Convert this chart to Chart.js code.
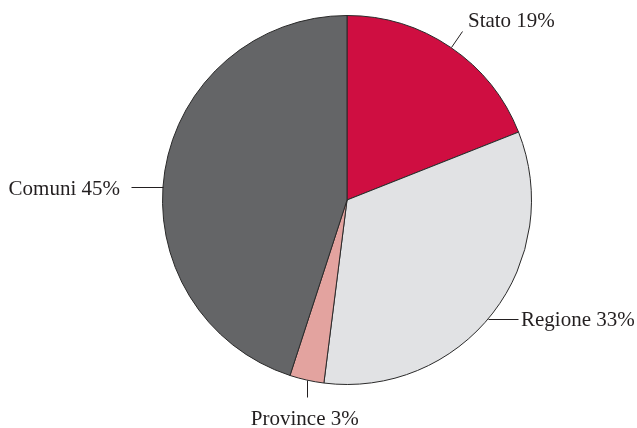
<!DOCTYPE html>
<html>
<head>
<meta charset="utf-8">
<script src="https://cdn.jsdelivr.net/npm/chart.js@4.4.1/dist/chart.umd.min.js"></script>
<style>
  html, body { margin: 0; padding: 0; background: #ffffff; }
  #wrap { width: 637px; height: 428px; position: relative; }
</style>
</head>
<body>
<div id="wrap"><canvas id="pieChart"></canvas></div>
<script>
// Shares by level of government
const labels = ['Stato', 'Regione', 'Province', 'Comuni'];
const shares = [19, 33, 3, 45];
const sliceColors = ['#cf0e41', '#e1e2e4', '#e3a39f', '#646567'];

// How each callout leaves its slice: direction, line length, where on the arc
const callouts = [
    { dir: 'radial', len: 20, at: 0.5 },
    { dir: 'right', len: 30, at: 0.52 },
    { dir: 'down', len: 17, at: 0.5 },
    { dir: 'left', len: 32, at: 0.47 }
];

const labelFont = '21px "Liberation Serif", "Times New Roman", serif';
const inkColor = '#231f20';

// draws leader lines and "Name NN%" text next to every slice
const calloutPlugin = {
    id: 'callouts',
    afterDatasetsDraw(chart) {
        const ctx = chart.ctx;
        const arcs = chart.getDatasetMeta(0).data;
        ctx.save();
        ctx.font = labelFont;
        ctx.fillStyle = inkColor;
        ctx.strokeStyle = inkColor;
        ctx.lineWidth = 1;
        arcs.forEach((arc, i) => {
            const c = callouts[i];
            const a = arc.startAngle + (arc.endAngle - arc.startAngle) * c.at;
            const x0 = arc.x + Math.cos(a) * arc.outerRadius;
            const y0 = arc.y + Math.sin(a) * arc.outerRadius;
            let x1 = x0, y1 = y0;
            if (c.dir === 'radial') {
                x1 = x0 + Math.cos(a) * c.len;
                y1 = y0 + Math.sin(a) * c.len;
            } else if (c.dir === 'right') {
                x1 = x0 + c.len;
            } else if (c.dir === 'left') {
                x1 = x0 - c.len;
            } else if (c.dir === 'down') {
                y1 = y0 + c.len;
            }
            ctx.beginPath();
            ctx.moveTo(Math.round(x0) + 0.5, Math.round(y0) + 0.5);
            ctx.lineTo(Math.round(x1) + 0.5, Math.round(y1) + 0.5);
            ctx.stroke();

            const text = labels[i] + ' ' + shares[i] + '%';
            ctx.textBaseline = 'alphabetic';
            if (c.dir === 'radial') {
                ctx.textAlign = 'left';
                ctx.fillText(text, x1 + 6, y1 - 4);
            } else if (c.dir === 'right') {
                ctx.textAlign = 'left';
                ctx.fillText(text, x1 + 3, y1 + 7);
            } else if (c.dir === 'left') {
                ctx.textAlign = 'right';
                ctx.fillText(text, x1 - 11, y1 + 8);
            } else {
                ctx.textAlign = 'center';
                ctx.fillText(text, x1 - 2, y1 + 28);
            }
        });
        ctx.restore();
    }
};

new Chart(document.getElementById('pieChart'), {
    type: 'pie',
    data: {
        labels: labels,
        datasets: [{
            data: shares,
            backgroundColor: sliceColors,
            borderColor: '#2a2a2a',
            borderWidth: 1
        }]
    },
    options: {
        responsive: true,
        maintainAspectRatio: false,
        animation: false,
        layout: {
            padding: { top: 15, bottom: 43, left: 162, right: 105 }
        },
        plugins: {
            legend: { display: false },
            tooltip: { enabled: false }
        }
    },
    plugins: [calloutPlugin]
});
</script>
</body>
</html>
